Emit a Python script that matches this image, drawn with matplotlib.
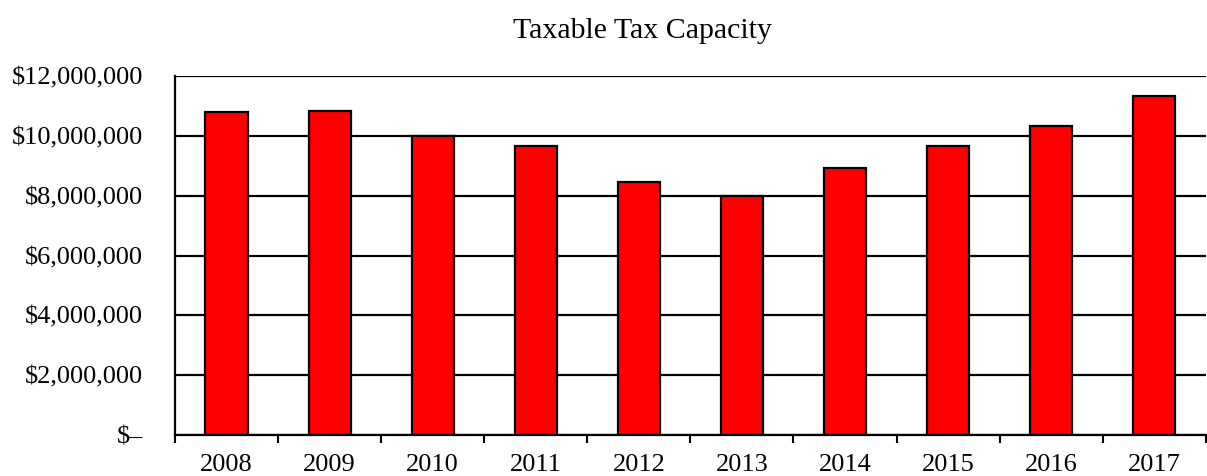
import matplotlib
matplotlib.use("Agg")
import matplotlib.pyplot as plt
import numpy as np
from matplotlib.ticker import FuncFormatter

plt.rcParams['font.family'] = ['Liberation Serif', 'DejaVu Serif']

# values
years = ['2008', '2009', '2010', '2011', '2012', '2013', '2014', '2015', '2016', '2017']
capacity = [10790000, 10850000, 9990000, 9660000, 8460000,
            7990000, 8920000, 9660000, 10320000, 11320000]
yticks = [0, 2000000, 4000000, 6000000, 8000000, 10000000, 12000000]


def money(v, pos):
    if v == 0:
        return '$\u2013'
    return '${:,.0f}'.format(v)


fig = plt.figure(figsize=(12.07, 4.76), dpi=100)
ax = fig.add_axes([0.145, 0.0861, 0.854, 0.754])

x = np.arange(len(years))
ax.bar(x, capacity, width=0.41, color='#ff0000', edgecolor='black', linewidth=1.6, zorder=3)

ax.set_ylim(0, 12000000)
ax.set_yticks(yticks)
ax.yaxis.set_major_formatter(FuncFormatter(money))
ax.yaxis.grid(True, color='black', linewidth=1.6, zorder=0)
ax.tick_params(axis='y', length=0, pad=23, labelsize=19)

ax.set_xlim(-0.5, len(years) - 0.5)
ax.set_xticks(np.arange(len(years) + 1) - 0.5)
ax.set_xticklabels([])
ax.set_xticks(x, minor=True)
ax.set_xticklabels(years, minor=True)
ax.tick_params(axis='x', which='major', length=6, width=1.5, direction='out')
ax.tick_params(axis='x', which='minor', length=0, pad=14, labelsize=19)

for s in ['top', 'right']:
    ax.spines[s].set_visible(False)
for s in ['left', 'bottom']:
    ax.spines[s].set_linewidth(1.6)
    ax.spines[s].set_zorder(4)

fig.text(0.532, 0.935, 'Taxable Tax Capacity', ha='center', va='center', fontsize=21.5)

fig.savefig('out.png', dpi=100)
